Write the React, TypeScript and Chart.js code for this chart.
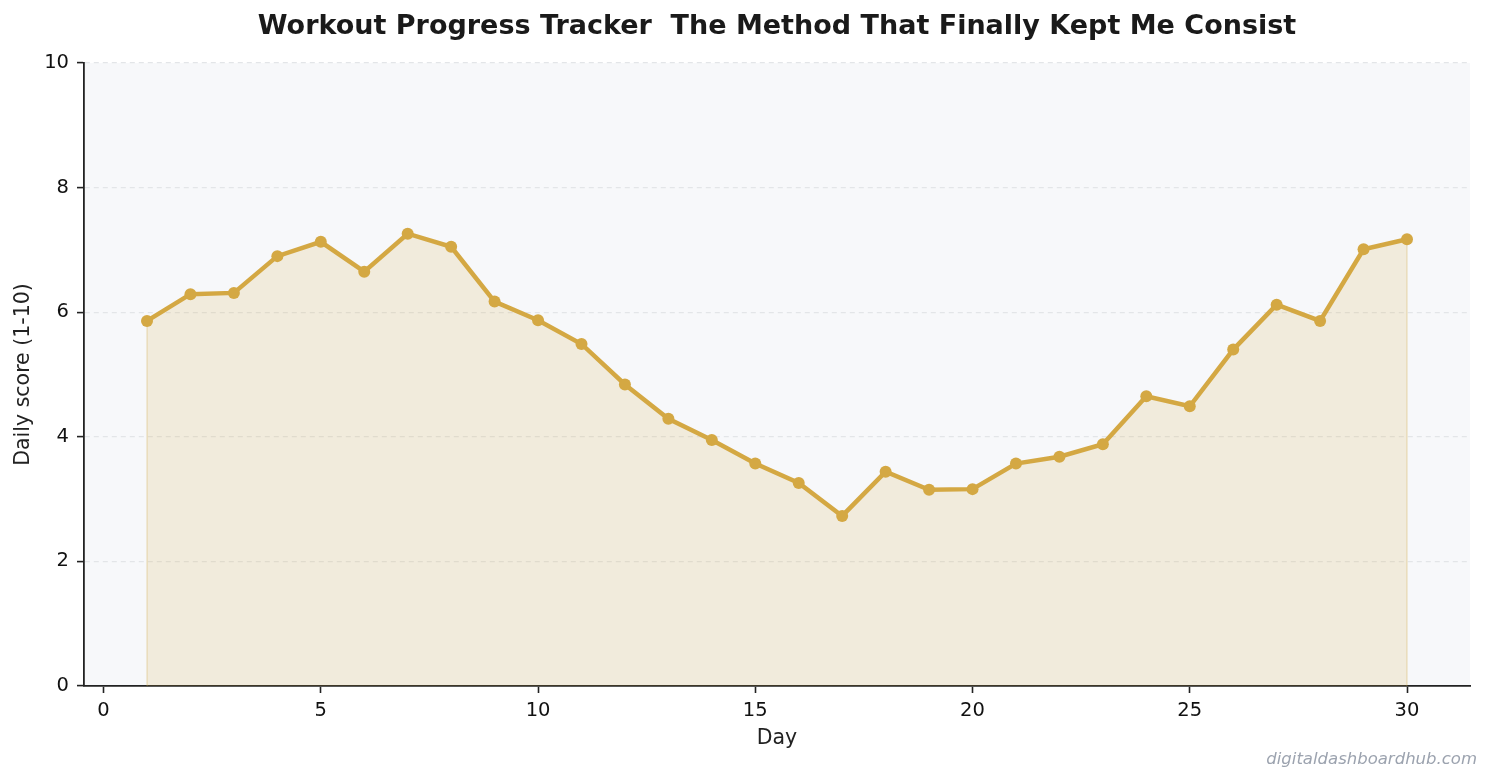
import React, { useEffect, useRef } from "react";
import { Chart, registerables } from "chart.js";

Chart.register(...registerables);

const days = [1, 2, 3, 4, 5, 6, 7, 8, 9, 10, 11, 12, 13, 14, 15, 16, 17, 18, 19, 20, 21, 22, 23, 24, 25, 26, 27, 28, 29, 30];
const scores = [5.86, 6.29, 6.31, 6.9, 7.13, 6.65, 7.26, 7.05, 6.17, 5.87, 5.49, 4.84, 4.29, 3.95, 3.57, 3.26, 2.73, 3.44, 3.15, 3.16, 3.57, 3.68, 3.88, 4.65, 4.49, 5.4, 6.12, 5.86, 7.01, 7.17];
const xTicks = [0, 5, 10, 15, 20, 25, 30];
const yTicks = [0, 2, 4, 6, 8, 10];

const TITLE = "Workout Progress Tracker  The Method That Finally Kept Me Consist";
const X_LABEL = "Day";
const Y_LABEL = "Daily score (1-10)";
const WATERMARK = "digitaldashboardhub.com";
const FONT = "'DejaVu Sans', sans-serif";

const decorPlugin = {
  id: "decor",
  beforeDraw(chart: any) {
    const { ctx, chartArea } = chart;
    ctx.save();
    ctx.fillStyle = "#ffffff";
    ctx.fillRect(0, 0, chart.width, chart.height);
    ctx.fillStyle = "#f7f8fa";
    ctx.fillRect(chartArea.left, chartArea.top, chartArea.right - chartArea.left, chartArea.bottom - chartArea.top);
    ctx.restore();
  },
  beforeDatasetsDraw(chart: any) {
    // faint edges of the filled area at first/last day
    const { ctx, scales } = chart;
    const x = scales.x;
    const y = scales.y;
    ctx.save();
    ctx.strokeStyle = "rgba(212,168,67,0.2)";
    ctx.lineWidth = 2;
    const ends = [0, days.length - 1];
    ends.forEach((i) => {
      const px = x.getPixelForValue(days[i]);
      ctx.beginPath();
      ctx.moveTo(px, y.getPixelForValue(0));
      ctx.lineTo(px, y.getPixelForValue(scores[i]));
      ctx.stroke();
    });
    ctx.restore();
  },
  afterDraw(chart: any) {
    const { ctx, chartArea } = chart;
    ctx.save();
    ctx.fillStyle = "#1a1a1a";
    ctx.font = `bold 27px ${FONT}`;
    ctx.textAlign = "center";
    ctx.textBaseline = "middle";
    ctx.fillText(TITLE, (chartArea.left + chartArea.right) / 2, 27);

    ctx.fillStyle = "#222222";
    ctx.font = `20.5px ${FONT}`;
    ctx.fillText(X_LABEL, (chartArea.left + chartArea.right) / 2, 739);

    ctx.save();
    ctx.translate(24, (chartArea.top + chartArea.bottom) / 2);
    ctx.rotate(-Math.PI / 2);
    ctx.fillText(Y_LABEL, 0, 0);
    ctx.restore();

    ctx.fillStyle = "#9ca3af";
    ctx.font = `italic 16.5px ${FONT}`;
    ctx.textAlign = "right";
    ctx.fillText(WATERMARK, 1477, 760);
    ctx.restore();
  },
};

export default function App() {
  const ref = useRef<HTMLCanvasElement>(null);
  useEffect(() => {
    document.body.style.margin = "0";
    const chart = new Chart(ref.current!, {
      type: "line",
      data: {
        datasets: [
          {
            data: days.map((d, i) => ({ x: d, y: scores[i] })),
            borderColor: "#d4a843",
            backgroundColor: "rgba(212,168,67,0.16)",
            fill: "origin",
            borderWidth: 4.5,
            pointRadius: 6,
            pointBackgroundColor: "#d4a843",
            pointBorderWidth: 0,
            tension: 0,
          },
        ],
      },
      options: {
        animation: false,
        responsive: false,
        devicePixelRatio: 1,
        layout: { padding: { top: 63, right: 22, left: 0, bottom: 0 } },
        plugins: { legend: { display: false }, title: { display: false }, tooltip: { enabled: false } },
        scales: {
          x: {
            type: "linear",
            min: -0.45,
            max: 31.45,
            afterBuildTicks: (scale: any) => {
              scale.ticks = xTicks.map((v) => ({ value: v }));
            },
            afterFit: (scale: any) => {
              scale.height = 97;
            },
            grid: { drawOnChartArea: false, drawTicks: true, tickLength: 7, tickColor: "#222", tickWidth: 1.6 },
            border: { display: true, color: "#222", width: 1.8 },
            ticks: { color: "#111", font: { family: FONT, size: 19.5 }, padding: 6, maxRotation: 0 },
          },
          y: {
            min: 0,
            max: 10,
            afterBuildTicks: (scale: any) => {
              scale.ticks = yTicks.map((v) => ({ value: v }));
            },
            afterFit: (scale: any) => {
              scale.width = 84;
            },
            grid: { color: "#e3e5e8", lineWidth: 1.2, drawTicks: true, tickLength: 7, tickColor: "#222", tickWidth: 1.6 },
            border: { display: true, color: "#222", width: 1.8, dash: [5, 4] },
            ticks: { color: "#111", font: { family: FONT, size: 19.5 }, padding: 8 },
          },
        },
      } as any,
      plugins: [decorPlugin],
    });
    return () => chart.destroy();
  }, []);
  return (
    <div style={{ position: "fixed", left: 0, top: 0, width: 1492, height: 783, background: "#fff" }}>
      <canvas ref={ref} width={1492} height={783} style={{ width: 1492, height: 783 }} />
    </div>
  );
}
